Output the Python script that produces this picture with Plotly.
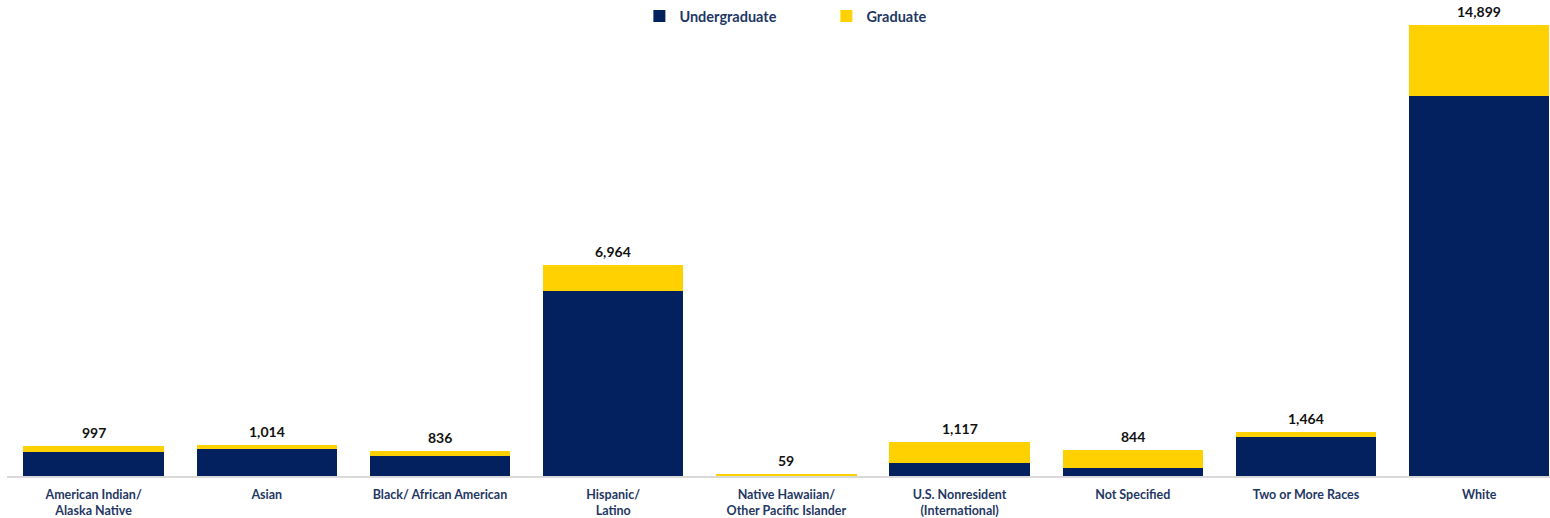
import plotly.graph_objects as go

categories = [
    "American Indian/<br>Alaska Native",
    "Asian",
    "Black/ African American",
    "Hispanic/<br>Latino",
    "Native Hawaiian/<br>Other Pacific Islander",
    "U.S. Nonresident<br>(International)",
    "Not Specified",
    "Two or More Races",
    "White",
]
undergraduate = [783, 882, 650, 6102, 25, 419, 253, 1278, 12555]
graduate = [214, 132, 186, 862, 34, 698, 591, 186, 2344]
totals = [u + g for u, g in zip(undergraduate, graduate)]
total_labels = [f"{t:,}" for t in totals]

NAVY = "#03215E"
GOLD = "#FFD100"
FONT = "Lato"

fig = go.Figure()
fig.add_trace(go.Bar(x=categories, y=undergraduate, name="Undergraduate",
                     marker=dict(color=NAVY, line=dict(width=0))))
fig.add_trace(go.Bar(x=categories, y=graduate, name="Graduate",
                     marker=dict(color=GOLD, line=dict(width=0))))

for c, t, lab in zip(categories, totals, total_labels):
    fig.add_annotation(x=c, y=t, text=lab, showarrow=False, yanchor="bottom",
                       yshift=3, font=dict(family=FONT, size=14, color="#111111", weight="bold"))

fig.update_layout(
    width=1550, height=518,
    barmode="stack", bargap=0.19,
    plot_bgcolor="white", paper_bgcolor="white",
    margin=dict(l=7, r=0, t=25, b=42, autoexpand=False),
    font=dict(family=FONT),
    showlegend=True,
    legend=dict(orientation="h", xref="container", yref="container",
                x=0.4125, xanchor="left", y=1.0, yanchor="top",
                font=dict(family=FONT, size=14.5, color="#1F3864", weight="bold"),
                entrywidth=142, itemclick=False, traceorder="normal"),
    xaxis=dict(range=[-0.5, 8.409], showgrid=False, showline=True, linecolor="#D9D9D9",
               linewidth=2, ticks="", automargin=False, ticklabelstandoff=6,
               tickfont=dict(family=FONT, size=12.5, color="#1F3864", weight="bold")),
    yaxis=dict(range=[0, max(totals)], visible=False, showgrid=False, automargin=False),
)

fig.write_html("out.html", config={"displayModeBar": False},
               post_script="document.body.style.margin='0';document.body.style.overflow='hidden';")
